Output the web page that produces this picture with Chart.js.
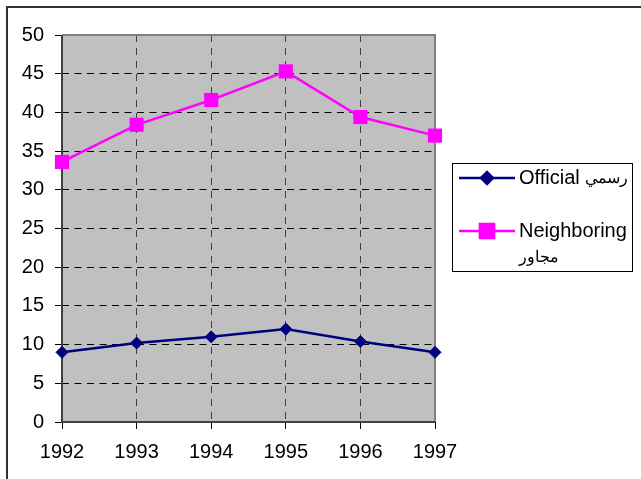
<!DOCTYPE html>
<html>
<head>
<meta charset="utf-8">
<script src="https://cdn.jsdelivr.net/npm/chart.js@4/dist/chart.umd.min.js"></script>
<style>
  html, body { margin: 0; padding: 0; background: #fff; }
  canvas { display: block; }
</style>
</head>
<body>
<canvas id="c" width="641" height="479"></canvas>
<script>
// Years along the x axis
const years = ['1992', '1993', '1994', '1995', '1996', '1997'];
// Series values
const official = [9.0, 10.2, 11.0, 12.0, 10.4, 9.0];
const neighboring = [33.6, 38.4, 41.6, 45.3, 39.4, 37.0];
// Legend text: English name, Arabic name, and whether the Arabic wraps to its own line
const officialName = ['Official', 'رسمي'];
const neighboringName = ['Neighboring', 'مجاور'];
const wrapArabic = [false, true];
// Value axis range
const yMin = 0, yMax = 50, yStep = 5;

const FONT = "'Liberation Sans', Arial, sans-serif";

// Grey plot background and the outer frame of the picture
const backdrop = {
  id: 'backdrop',
  beforeDraw(chart) {
    const { ctx, chartArea: a } = chart;
    ctx.save();
    ctx.fillStyle = '#fff';
    ctx.fillRect(0, 0, chart.width, chart.height);
    ctx.fillStyle = '#c0c0c0';
    ctx.fillRect(a.left, a.top, a.right - a.left, a.bottom - a.top);
    // outer frame: top and left edges only are in view
    ctx.fillStyle = '#303030';
    ctx.fillRect(6, 6, chart.width, 2);
    ctx.fillRect(6, 6, 2, chart.height);
    ctx.restore();
  }
};

// Plot-area edges: dark axes left/bottom, grey edges top/right
const plotFrame = {
  id: 'plotFrame',
  beforeDatasetsDraw(chart) {
    const { ctx, chartArea: a } = chart;
    ctx.save();
    ctx.lineWidth = 2;
    ctx.strokeStyle = '#808080';
    ctx.beginPath();
    ctx.moveTo(a.left, a.top);
    ctx.lineTo(a.right, a.top);
    ctx.lineTo(a.right, a.bottom);
    ctx.stroke();
    ctx.strokeStyle = '#404040';
    ctx.beginPath();
    ctx.moveTo(a.left, a.top);
    ctx.lineTo(a.left, a.bottom);
    ctx.lineTo(a.right, a.bottom);
    ctx.stroke();
    ctx.restore();
  }
};

// Boxed legend to the right of the plot
const boxLegend = {
  id: 'boxLegend',
  afterDraw(chart) {
    const { ctx } = chart;
    const box = { x: 452.5, y: 163.5, w: 180, h: 108 };
    const names = [officialName, neighboringName];
    const rowY = [178, 231];
    ctx.save();
    ctx.fillStyle = '#fff';
    ctx.fillRect(box.x, box.y, box.w, box.h);
    ctx.strokeStyle = '#000';
    ctx.lineWidth = 1;
    ctx.strokeRect(box.x, box.y, box.w, box.h);
    chart.data.datasets.forEach((ds, i) => {
      const y = rowY[i];
      ctx.strokeStyle = ds.borderColor;
      ctx.lineWidth = ds.borderWidth;
      ctx.beginPath();
      ctx.moveTo(459, y);
      ctx.lineTo(515, y);
      ctx.stroke();
      Chart.helpers.drawPoint(ctx, {
        pointStyle: ds.pointStyle,
        radius: ds.pointRadius,
        borderWidth: 1
      }, 487, y);
      ctx.fillStyle = ds.pointBackgroundColor;
      ctx.fill();
      ctx.fillStyle = '#000';
      ctx.textBaseline = 'middle';
      ctx.textAlign = 'left';
      const [en, ar] = names[i];
      ctx.font = '20px ' + FONT;
      ctx.fillText(en, 519, y);
      const enW = ctx.measureText(en).width;
      ctx.font = '16px ' + FONT;
      if (wrapArabic[i]) {
        ctx.fillText(ar, 519, y + 27);
      } else {
        ctx.fillText(ar, 519 + enW + 5, y + 1);
      }
    });
    ctx.restore();
  }
};

new Chart(document.getElementById('c'), {
  type: 'line',
  data: {
    labels: years,
    datasets: [
      {
        label: officialName.join(' '),
        data: official,
        borderColor: '#000080',
        backgroundColor: '#000080',
        pointBackgroundColor: '#000080',
        pointBorderColor: '#000080',
        borderWidth: 2.5,
        pointStyle: 'rectRot',
        pointRadius: 6,
        pointBorderWidth: 1,
        tension: 0
      },
      {
        label: neighboringName.join(' '),
        data: neighboring,
        borderColor: '#ff00ff',
        backgroundColor: '#ff00ff',
        pointBackgroundColor: '#ff00ff',
        pointBorderColor: '#ff00ff',
        borderWidth: 2.5,
        pointStyle: 'rect',
        pointRadius: 10,
        pointBorderWidth: 0,
        tension: 0
      }
    ]
  },
  options: {
    responsive: false,
    animation: false,
    devicePixelRatio: 1,
    layout: { padding: { left: 0, top: 35, right: 206, bottom: 0 } },
    plugins: {
      legend: { display: false },
      tooltip: { enabled: false }
    },
    scales: {
      x: {
        type: 'category',
        offset: false,
        afterFit(s) { s.height = 57; },
        border: { display: false, dash: [7, 6] },
        grid: {
          color: c => (c.index === 0 || c.index === years.length - 1) ? 'rgba(0,0,0,0)' : '#404040',
          lineWidth: 1,
          tickColor: '#000',
          tickLength: 7,
          tickBorderDash: []
        },
        ticks: {
          color: '#000',
          font: { family: FONT, size: 20 },
          padding: 11,
          maxRotation: 0,
          autoSkip: false
        }
      },
      y: {
        min: yMin,
        max: yMax,
        afterFit(s) { s.width = 62; },
        border: { display: false, dash: [7, 5.5] },
        grid: {
          color: c => (c.tick.value === yMin || c.tick.value === yMax) ? 'rgba(0,0,0,0)' : '#000',
          lineWidth: 1,
          tickColor: '#000',
          tickLength: 7,
          tickBorderDash: []
        },
        ticks: {
          stepSize: yStep,
          color: '#000',
          font: { family: FONT, size: 20 },
          padding: 11
        }
      }
    }
  },
  plugins: [backdrop, plotFrame, boxLegend]
});
</script>
</body>
</html>
